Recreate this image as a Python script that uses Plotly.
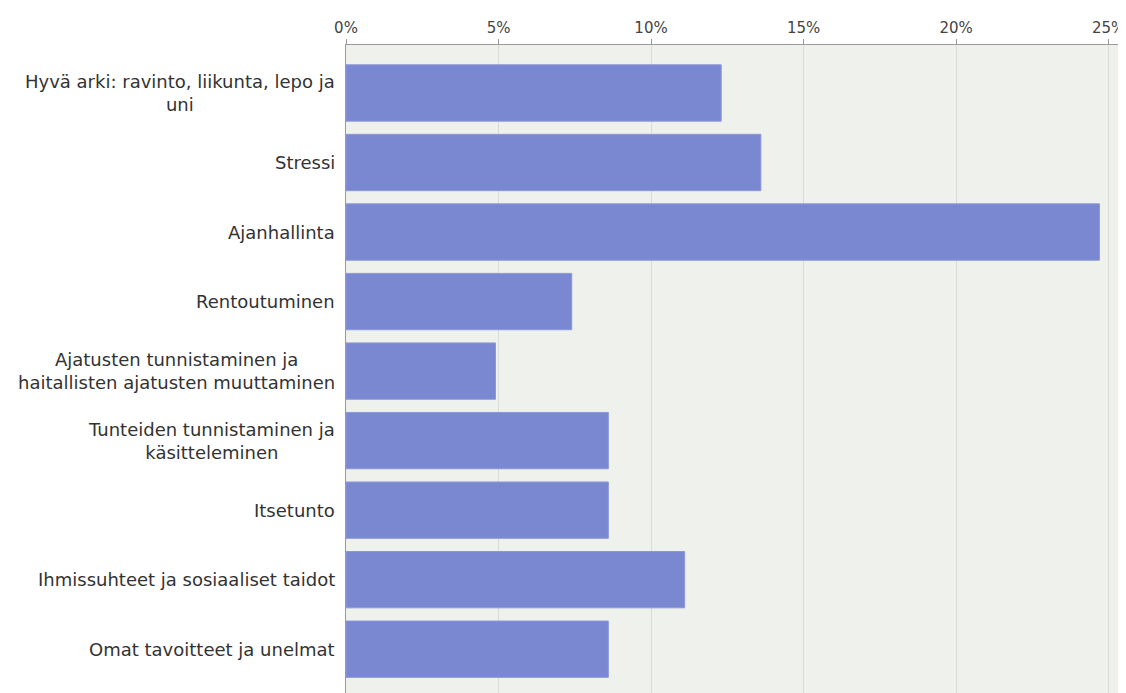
import plotly.graph_objects as go

categories = [
    "Hyvä arki: ravinto, liikunta, lepo ja<br>uni",
    "Stressi",
    "Ajanhallinta",
    "Rentoutuminen",
    "Ajatusten tunnistaminen ja<br>haitallisten ajatusten muuttaminen",
    "Tunteiden tunnistaminen ja<br>käsitteleminen",
    "Itsetunto",
    "Ihmissuhteet ja sosiaaliset taidot",
    "Omat tavoitteet ja unelmat",
]
values = [12.3, 13.6, 24.7, 7.4, 4.9, 8.6, 8.6, 11.1, 8.6]
tick_vals = [0, 5, 10, 15, 20, 25]
tick_text = ["0%", "5%", "10%", "15%", "20%", "25%"]

idx = list(range(len(categories)))

fig = go.Figure()
fig.add_trace(go.Bar(
    x=values, y=idx, orientation="h",
    marker=dict(color="#7a88d2", line=dict(color="#8c97d8", width=1)),
    width=0.81,
    hoverinfo="x",
))

font_family = "DejaVu Sans, Verdana, sans-serif"
for i, cat in enumerate(categories):
    fig.add_annotation(
        x=0, xref="x", y=i, yref="y",
        text=cat, showarrow=False,
        xanchor="right", yanchor="middle", align="center",
        xshift=-9,
        font=dict(family=font_family, size=18, color="#333333"),
    )

fig.update_layout(
    width=1118, height=685,
    margin=dict(l=338, r=0, t=37, b=0),
    paper_bgcolor="white",
    plot_bgcolor="#eff1ec",
    showlegend=False,
    xaxis=dict(
        side="top", range=[0, 25.57],
        tickvals=tick_vals, ticktext=tick_text,
        tickfont=dict(family=font_family, size=15, color="#444444"),
        ticklabeloverflow="allow",
        showgrid=True, gridcolor="#d9dbd6", gridwidth=1,
        showline=True, linecolor="#999999", linewidth=1,
        ticks="outside", ticklen=5, tickcolor="#999999",
        zeroline=False, fixedrange=True,
    ),
    yaxis=dict(
        range=[8.63, -0.69],
        showticklabels=False, showgrid=False,
        showline=True, linecolor="#999999", linewidth=1,
        zeroline=False, fixedrange=True,
    ),
)

fig.write_html("out.html")
